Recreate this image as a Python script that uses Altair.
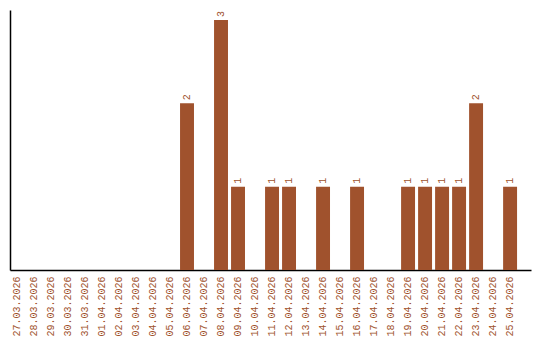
import altair as alt
import pandas as pd

dates = ["27.03.2026", "28.03.2026", "29.03.2026", "30.03.2026", "31.03.2026",
         "01.04.2026", "02.04.2026", "03.04.2026", "04.04.2026", "05.04.2026",
         "06.04.2026", "07.04.2026", "08.04.2026", "09.04.2026", "10.04.2026",
         "11.04.2026", "12.04.2026", "13.04.2026", "14.04.2026", "15.04.2026",
         "16.04.2026", "17.04.2026", "18.04.2026", "19.04.2026", "20.04.2026",
         "21.04.2026", "22.04.2026", "23.04.2026", "24.04.2026", "25.04.2026"]
counts = [0, 0, 0, 0, 0,
          0, 0, 0, 0, 0,
          2, 0, 3, 1, 0,
          1, 1, 0, 1, 0,
          1, 0, 0, 1, 1,
          1, 1, 2, 0, 1]

df = pd.DataFrame({"date": dates, "count": counts})
df["label"] = [str(c) if c > 0 else "" for c in counts]

COLOR = "#A0522D"
FONT = "Liberation Mono"

x = alt.X("date:O", sort=None, title=None,
          scale=alt.Scale(paddingInner=0.18, paddingOuter=0.41, align=0),
          axis=alt.Axis(labelAngle=270, labelColor=COLOR, labelFont=FONT,
                        labelFontSize=10, ticks=False, labelPadding=6,
                        domainColor="black", domainWidth=1.5, grid=False,
                        labelAlign="right", labelBaseline="middle"))
y = alt.Y("count:Q", title=None,
          scale=alt.Scale(domain=[0, 3.12], nice=False),
          axis=alt.Axis(labels=False, ticks=False, grid=False,
                        domainColor="black", domainWidth=1.5))

bars = alt.Chart(df).mark_bar(color=COLOR).encode(x=x, y=y)
text = alt.Chart(df).mark_text(angle=270, align="left", baseline="middle",
                               dx=3, font=FONT, fontSize=10, color=COLOR).encode(
    x=alt.X("date:O", sort=None), y=alt.Y("count:Q"), text="label:N")

chart = (bars + text).properties(
    width=521, height=260,
    autosize=alt.AutoSizeParams(type="none"),
    padding={"left": 10, "top": 10, "right": 9, "bottom": 70},
    background="white",
).configure_view(stroke=None)

chart.save("out.html", embed_options={"renderer": "svg", "actions": False})
